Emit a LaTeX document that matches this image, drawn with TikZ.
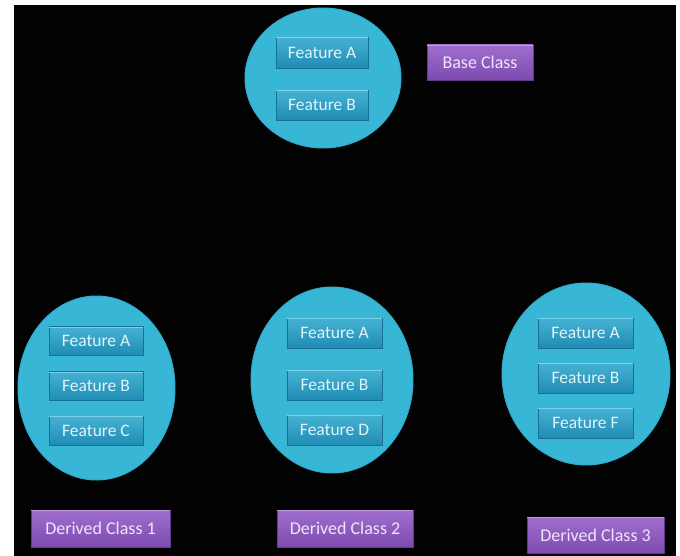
\documentclass[tikz,border=0pt]{standalone}
\usepackage{fontspec}
\setmainfont{Carlito}
\usetikzlibrary{shapes.geometric}
\definecolor{bgblack}{RGB}{2,2,2}
\definecolor{ellfill}{RGB}{56,182,214}
\definecolor{ellrim}{RGB}{48,170,205}
\definecolor{boxtop}{RGB}{70,178,210}
\definecolor{boxbot}{RGB}{32,140,180}
\definecolor{boxline}{RGB}{120,210,235}
\definecolor{boxtext}{RGB}{225,244,250}
\definecolor{purtop}{RGB}{160,110,205}
\definecolor{purbot}{RGB}{125,75,175}
\definecolor{purtext}{RGB}{240,228,250}
\tikzset{
  ell/.style={ellipse, fill=ellfill, draw=ellrim, line width=1pt, inner sep=0pt},
  feat/.style={rectangle, top color=boxtop, bottom color=boxbot, draw=boxbot!80!black, line width=0.6pt,
    minimum width=94pt, minimum height=29pt, inner sep=0pt, text=boxtext,
    font=\fontsize{17.5}{19}\selectfont},
  cls/.style={rectangle, top color=purtop, bottom color=purbot, draw=purbot!80!black, line width=0.6pt,
    minimum height=36pt, inner sep=0pt, text=purtext, font=\fontsize{18}{20}\selectfont},
}
\begin{document}
\begin{tikzpicture}[x=1pt,y=-1pt]
\useasboundingbox (0,0) rectangle (680,556);
\fill[white] (0,0) rectangle (680,556);
\fill[bgblack] (14,5) rectangle (676,556);
% base
\node[ell, minimum width=156pt, minimum height=140pt] (e0) at (323,78) {};
\node[feat, minimum width=92pt, minimum height=31pt] (e0a) at (322,52.5) {Feature A};
\node[feat, minimum width=92pt, minimum height=30pt] (e0b) at (322,105) {Feature B};
\node[cls, minimum width=106pt, minimum height=35pt] (c0) at (480,62.5) {Base Class};
% derived 1
\node[ell, minimum width=157pt, minimum height=184pt] (e1) at (96.5,388) {};
\node[feat] (e1a) at (96,341) {Feature A};
\node[feat] (e1b) at (96,386) {Feature B};
\node[feat] (e1c) at (96,430.5) {Feature C};
\node[cls, minimum width=139pt, minimum height=37pt] (c1) at (100.5,528.5) {Derived Class 1};
% derived 2
\node[ell, minimum width=162pt, minimum height=186pt] (e2) at (332,380) {};
\node[feat, minimum width=95pt, minimum height=30pt] (e2a) at (334.5,333) {Feature A};
\node[feat, minimum width=95pt, minimum height=30pt] (e2b) at (334.5,385) {Feature B};
\node[feat, minimum width=95pt, minimum height=30pt] (e2d) at (334.5,430) {Feature D};
\node[cls, minimum width=136pt, minimum height=37pt] (c2) at (345,528.5) {Derived Class 2};
% derived 3
\node[ell, minimum width=168pt, minimum height=182pt] (e3) at (586,374) {};
\node[feat, minimum width=95pt, minimum height=30pt] (e3a) at (585.5,333) {Feature A};
\node[feat, minimum width=95pt, minimum height=30pt] (e3b) at (585.5,378) {Feature B};
\node[feat, minimum width=95pt, minimum height=30pt] (e3f) at (585.5,423) {Feature F};
\node[cls, minimum width=137pt, minimum height=36pt] (c3) at (595.5,535) {Derived Class 3};
% highlight lines on top edges
\foreach \n in {e0a,e0b,e1a,e1b,e1c,e2a,e2b,e2d,e3a,e3b,e3f}
  \draw[boxline, line width=1.2pt] ([yshift=-1pt]\n.north west) -- ([yshift=-1pt]\n.north east);
\foreach \n in {c0,c1,c2,c3}
  \draw[purtop!70!white, line width=1.2pt] ([yshift=-1pt]\n.north west) -- ([yshift=-1pt]\n.north east);
\end{tikzpicture}
\end{document}
